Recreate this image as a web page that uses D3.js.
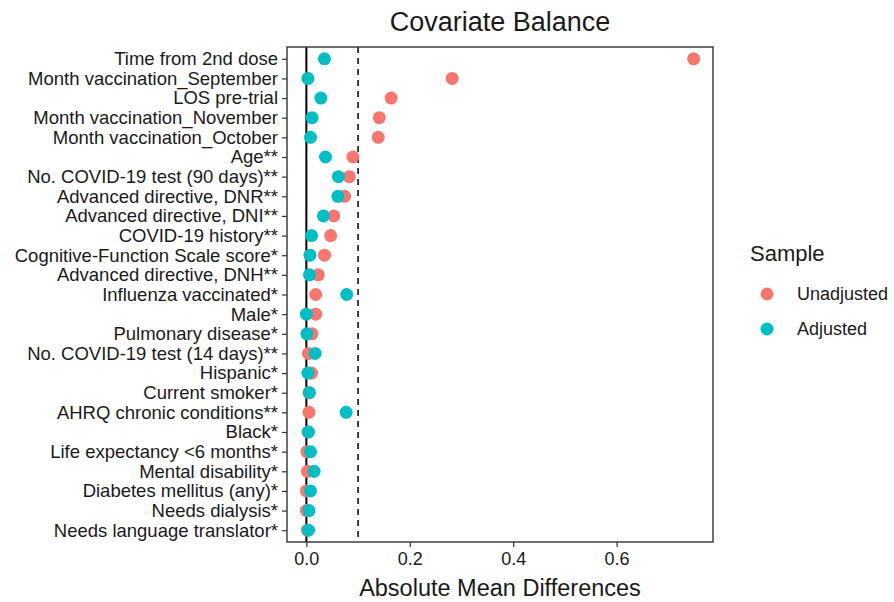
<!DOCTYPE html>
<html>
<head>
<meta charset="utf-8">
<script src="https://cdn.jsdelivr.net/npm/d3@7"></script>
<style>
  body { margin: 0; background: #fff; }
  text { font-family: "Liberation Sans", Arial, sans-serif; fill: #1a1a1a; }
</style>
</head>
<body>
<script>
const covariates = [
  "Time from 2nd dose",
  "Month vaccination_September",
  "LOS pre-trial",
  "Month vaccination_November",
  "Month vaccination_October",
  "Age**",
  "No. COVID-19 test (90 days)**",
  "Advanced directive, DNR**",
  "Advanced directive, DNI**",
  "COVID-19 history**",
  "Cognitive-Function Scale score*",
  "Advanced directive, DNH**",
  "Influenza vaccinated*",
  "Male*",
  "Pulmonary disease*",
  "No. COVID-19 test (14 days)**",
  "Hispanic*",
  "Current smoker*",
  "AHRQ chronic conditions**",
  "Black*",
  "Life expectancy <6 months*",
  "Mental disability*",
  "Diabetes mellitus (any)*",
  "Needs dialysis*",
  "Needs language translator*",
];

const unadjusted = [
  0.749, 0.282, 0.164, 0.141, 0.139, 0.090, 0.083, 0.074, 0.053, 0.047,
  0.035, 0.023, 0.018, 0.018, 0.011, 0.004, 0.010, 0.005, 0.005, 0.003,
  0.001, 0.002, 0.000, 0.000, 0.002,
];

const adjusted = [
  0.035, 0.003, 0.028, 0.011, 0.008, 0.037, 0.062, 0.061, 0.033, 0.010,
  0.007, 0.006, 0.078, 0.000, 0.001, 0.017, 0.003, 0.006, 0.077, 0.004,
  0.008, 0.015, 0.008, 0.005, 0.004,
];

const samples = ["Unadjusted", "Adjusted"];
const colors = ["#F8766D", "#00BFC4"];
const xTicks = [0, 0.2, 0.4, 0.6];
const threshold = 0.1;

const width = 894, height = 602;
const pLeft = 287, pRight = 713, pTop = 47, pBottom = 542;

const svg = d3.select("body").append("svg")
  .attr("width", width)
  .attr("height", height);

const all = unadjusted.concat(adjusted);
const lo = d3.min(all), hi = d3.max(all);
const pad = (hi - lo) * 0.05;

const x = d3.scaleLinear()
  .domain([lo - pad, hi + pad])
  .range([pLeft, pRight]);

const y = d3.scalePoint()
  .domain(covariates)
  .range([pTop, pBottom])
  .padding(0.6);

const color = d3.scaleOrdinal().domain(samples).range(colors);

// reference lines
svg.append("line")
  .attr("x1", x(0)).attr("x2", x(0))
  .attr("y1", pTop).attr("y2", pBottom)
  .attr("stroke", "#000").attr("stroke-width", 2);

svg.append("line")
  .attr("x1", x(threshold)).attr("x2", x(threshold))
  .attr("y1", pTop).attr("y2", pBottom)
  .attr("stroke", "#000").attr("stroke-width", 1.5)
  .attr("stroke-dasharray", "6,5");

// points
const series = [
  { name: "Unadjusted", values: unadjusted },
  { name: "Adjusted", values: adjusted },
];

series.forEach((s) => {
  svg.append("g")
    .selectAll("circle")
    .data(s.values)
    .enter()
    .append("circle")
    .attr("cx", (d) => x(d))
    .attr("cy", (d, i) => y(covariates[i]))
    .attr("r", 6.5)
    .attr("fill", color(s.name));
});

// panel border
svg.append("rect")
  .attr("x", pLeft).attr("y", pTop)
  .attr("width", pRight - pLeft).attr("height", pBottom - pTop)
  .attr("fill", "none")
  .attr("stroke", "#333").attr("stroke-width", 1.4);

// axes
const yAxis = d3.axisLeft(y).tickSize(5).tickPadding(4);
const gy = svg.append("g")
  .attr("transform", "translate(" + pLeft + ",0)")
  .call(yAxis);
gy.select(".domain").remove();
gy.selectAll(".tick line").attr("stroke", "#333").attr("stroke-width", 1.2);
gy.selectAll(".tick text")
  .style("font-size", "18.5px")
  .attr("fill", "#1a1a1a");

const xAxis = d3.axisBottom(x).tickValues(xTicks).tickFormat(d3.format(".1f"))
  .tickSize(5).tickPadding(5);
const gx = svg.append("g")
  .attr("transform", "translate(0," + pBottom + ")")
  .call(xAxis);
gx.select(".domain").remove();
gx.selectAll(".tick line").attr("stroke", "#333").attr("stroke-width", 1.2);
gx.selectAll(".tick text")
  .style("font-size", "18px")
  .attr("fill", "#333");

// titles
svg.append("text")
  .attr("x", (pLeft + pRight) / 2).attr("y", 31)
  .attr("text-anchor", "middle")
  .style("font-size", "27px")
  .text("Covariate Balance");

svg.append("text")
  .attr("x", (pLeft + pRight) / 2).attr("y", 596)
  .attr("text-anchor", "middle")
  .style("font-size", "23.5px")
  .text("Absolute Mean Differences");

// legend
const legend = svg.append("g");
legend.append("text")
  .attr("x", 750).attr("y", 261)
  .style("font-size", "22px")
  .text("Sample");

samples.forEach((s, i) => {
  legend.append("circle")
    .attr("cx", 767).attr("cy", 294 + i * 35)
    .attr("r", 6.5)
    .attr("fill", color(s));
  legend.append("text")
    .attr("x", 797).attr("y", 294 + i * 35)
    .attr("dy", "0.35em")
    .style("font-size", "18px")
    .text(s);
});
</script>
</body>
</html>
